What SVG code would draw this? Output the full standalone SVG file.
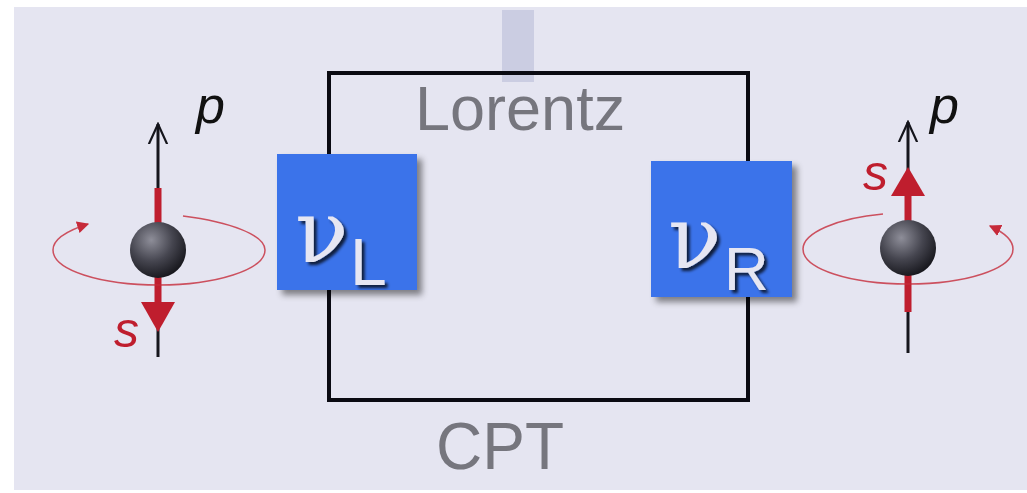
<svg xmlns="http://www.w3.org/2000/svg" width="1027" height="493" viewBox="0 0 1027 493">
<style>
.bg{fill:#e5e5f1}
.frame{fill:none;stroke:#0a0a12;stroke-width:4}
.lbl{font-family:"Liberation Sans",Arial,sans-serif;fill:#76767e}
.box{fill:#3a73ea}
.nu{font-family:"DejaVu Serif","Liberation Serif",serif;fill:#e6e6f2}
.sub{font-family:"Liberation Sans",Arial,sans-serif;fill:#e6e6f2}
.axis{stroke:#15151c;stroke-width:3;fill:none}
.spin{stroke:#bf1e2e;stroke-width:7;fill:none}
.spinhead{fill:#bf1e2e}
.orbit{fill:none;stroke:#c62a3a;stroke-opacity:0.8;stroke-width:1.5}
.sym{font-family:"Liberation Sans",Arial,sans-serif;font-style:italic}
</style>
<defs>
<filter id="bshadow" x="-20%" y="-20%" width="150%" height="150%">
<feDropShadow dx="5" dy="5" stdDeviation="3" flood-color="#000" flood-opacity="0.45"/>
</filter>
<filter id="tshadow" x="-20%" y="-20%" width="150%" height="150%">
<feDropShadow dx="3" dy="3" stdDeviation="1.5" flood-color="#000" flood-opacity="0.75"/>
</filter>
<radialGradient id="ball" cx="0.38" cy="0.32" r="0.7">
<stop offset="0" stop-color="#8e8e99"/>
<stop offset="0.55" stop-color="#45454f"/>
<stop offset="1" stop-color="#18181e"/>
</radialGradient>
<marker id="orbitArrow" viewBox="0 0 10 10" refX="9" refY="5" markerWidth="12" markerHeight="12" markerUnits="userSpaceOnUse" orient="auto">
<path d="M0,0 L10,5 L0,10 z" fill="#c62a3a"/>
</marker>
<marker id="openArrow" viewBox="0 0 12 12" refX="11" refY="6" markerWidth="22" markerHeight="22" markerUnits="userSpaceOnUse" orient="auto">
<path d="M0,1 L11,6 L0,11" fill="none" stroke="#15151c" stroke-width="1.2"/>
</marker>
</defs>
<rect class="bg" x="14" y="7" width="1013" height="483"/>
<rect x="502" y="10" width="32" height="72" fill="#cbcde2"/>
<g id="connectors">
<rect class="frame" x="329" y="73" width="419" height="327"/>
</g>
<g id="lorentz"><text class="lbl" x="415" y="130" font-size="63">Lorentz</text></g>
<g id="cpt"><text class="lbl" x="436" y="469" font-size="67" textLength="128" lengthAdjust="spacingAndGlyphs">CPT</text></g>
<g id="nuL">
<rect class="box" x="277" y="154" width="140" height="136" filter="url(#bshadow)"/>
<g filter="url(#tshadow)">
<text class="nu" x="295" y="262" font-size="88">ν</text>
<text class="sub" x="350" y="285" font-size="66">L</text>
</g>
</g>
<g id="nuR">
<rect class="box" x="651" y="161" width="141" height="136" filter="url(#bshadow)"/>
<g filter="url(#tshadow)">
<text class="nu" x="668" y="268" font-size="88">ν</text>
<text class="sub" x="724" y="290" font-size="62">R</text>
</g>
</g>
<g id="particleL">
<line class="axis" x1="158" y1="357" x2="158" y2="124" marker-end="url(#openArrow)"/>
<line class="spin" x1="158" y1="188" x2="158" y2="305"/>
<path class="spinhead" d="M141,302 L175,302 L158,332 z"/>
<path class="orbit" d="M183,216 C 230,222 265,235 265,250 C 265,270 215,285 159,285 C 100,285 53,270 53,250 C 53,240 66,231 88,224" marker-end="url(#orbitArrow)"/>
<circle cx="158" cy="250" r="28" fill="url(#ball)"/>
<text class="sym" x="114" y="347" font-size="50" fill="#bf1e2e">s</text>
<text class="sym" x="196" y="123" font-size="52" fill="#111">p</text>
</g>
<g id="particleR">
<line class="axis" x1="908" y1="353" x2="908" y2="122" marker-end="url(#openArrow)"/>
<line class="spin" x1="908" y1="312" x2="908" y2="192"/>
<path class="spinhead" d="M891,196 L925,196 L908,167 z"/>
<path class="orbit" d="M883,214 C 837,218 803,233 803,249 C 803,269 850,284 908,284 C 966,284 1013,269 1013,249 C 1013,240 1003,232 990,226" marker-end="url(#orbitArrow)"/>
<circle cx="908" cy="248" r="28" fill="url(#ball)"/>
<text class="sym" x="863" y="190" font-size="50" fill="#bf1e2e">s</text>
<text class="sym" x="930" y="123" font-size="52" fill="#111">p</text>
</g>
</svg>
